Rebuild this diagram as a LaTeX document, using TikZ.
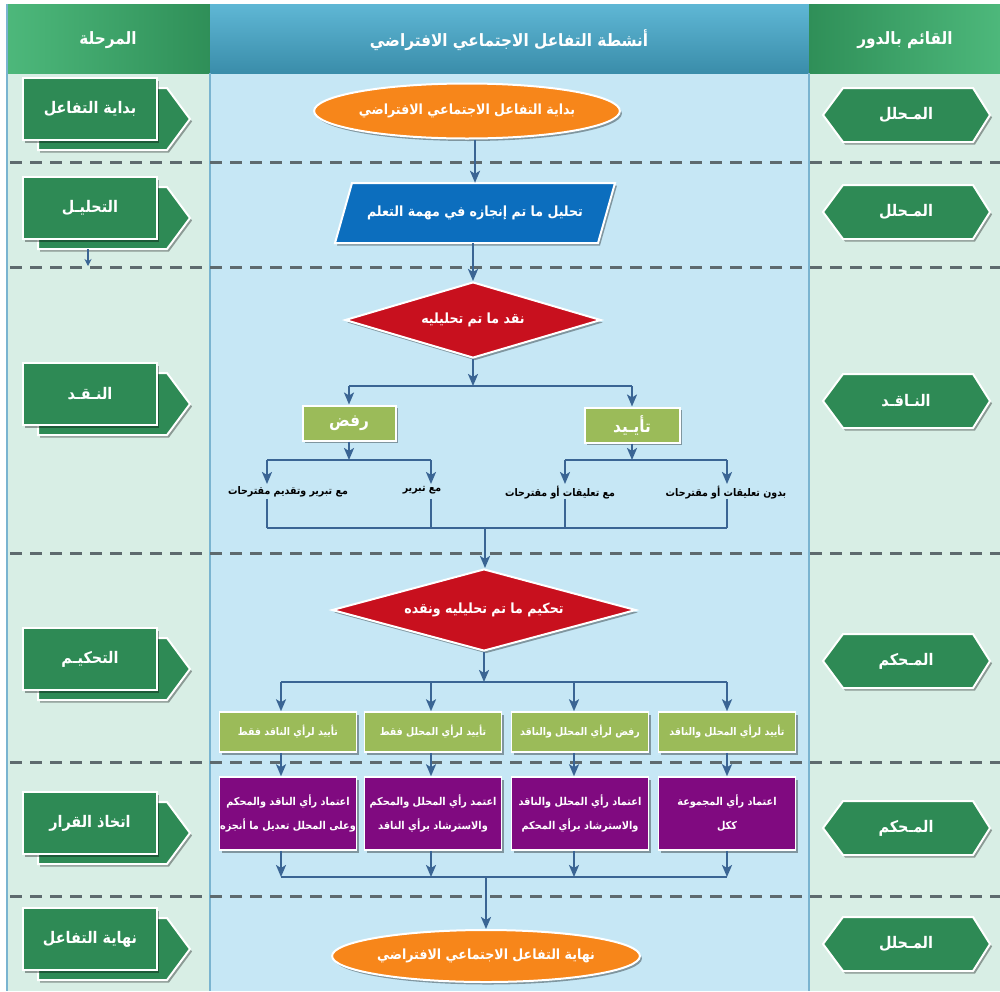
\documentclass[tikz,border=0pt]{standalone}
\usepackage{fontspec}
\usetikzlibrary{shapes.geometric,arrows.meta,shadows,calc}
\TeXXeTstate=1
\newfontfamily\arabicfont[Script=Arabic]{DejaVu Sans Condensed}
\newcommand{\AR}[1]{{\arabicfont\bfseries\beginR #1\endR}}
\definecolor{stagegreen}{HTML}{2E8A55}
\definecolor{hdrgreenL}{HTML}{4DB87B}
\definecolor{hdrgreenD}{HTML}{2F8F58}
\definecolor{hdrblueT}{HTML}{5FB7D5}
\definecolor{hdrblueB}{HTML}{3A8DAA}
\definecolor{sidebg}{HTML}{D8EEE5}
\definecolor{midbg}{HTML}{C6E7F5}
\definecolor{colline}{HTML}{7AB4D0}
\definecolor{dashgrey}{HTML}{5E6A6E}
\definecolor{arrowblue}{HTML}{3A6594}
\definecolor{startorange}{HTML}{F7861A}
\definecolor{parablue}{HTML}{0C6EBE}
\definecolor{diamred}{HTML}{C8101E}
\definecolor{olivebox}{HTML}{9BBB59}
\definecolor{plum}{HTML}{800A80}
\begin{document}
\begin{tikzpicture}[x=1pt,y=-1pt,
  shad/.style={drop shadow={shadow xshift=2pt,shadow yshift=-2.5pt,opacity=0.35,fill=black}},
  hdrtext/.style={text=white,font=\fontsize{17}{19}\selectfont,inner sep=0pt},
  stagefront/.style={rectangle,fill=stagegreen,draw=white,line width=2pt,minimum width=134pt,minimum height=62pt,inner sep=0pt,text=white,font=\fontsize{16}{18}\selectfont,shad},
  stageback/.style={fill=stagegreen,draw=white,line width=2pt,shad},
  hexshape/.style={fill=stagegreen,draw=white,line width=2pt,shad},
  hextext/.style={text=white,font=\fontsize{16}{18}\selectfont,inner sep=0pt},
  terminal/.style={ellipse,fill=startorange,draw=white,line width=2pt,minimum width=251pt,minimum height=55pt,inner sep=0pt,text=white,font=\fontsize{14}{16}\selectfont,shad},
  parashape/.style={fill=parablue,draw=white,line width=2pt,shad},
  iotext/.style={rectangle,minimum width=263pt,minimum height=60pt,inner sep=0pt,text=white,font=\fontsize{14}{16}\selectfont},
  decision/.style={diamond,fill=diamred,draw=white,line width=2pt,inner sep=0pt,text=white,font=\fontsize{14}{16}\selectfont,shad},
  choice/.style={rectangle,fill=olivebox,draw=white,line width=2pt,minimum height=35pt,inner sep=0pt,text=white,font=\fontsize{17}{19}\selectfont,shad},
  smalltext/.style={text=black,font=\fontsize{10.5}{12}\selectfont,inner sep=2pt,anchor=north},
  verdict/.style={rectangle,fill=olivebox,draw=white,line width=1.5pt,minimum width=137pt,minimum height=40pt,inner sep=0pt,text=white,font=\fontsize{10.5}{12}\selectfont,shad},
  decisionbox/.style={rectangle,fill=plum,draw=white,line width=1.5pt,minimum width=137pt,minimum height=73pt,inner sep=0pt,text=white,align=center,font=\fontsize{10.8}{24}\selectfont,shad},
  dashline/.style={draw=dashgrey,line width=3pt,dash pattern=on 12pt off 8pt},
  ln/.style={draw=arrowblue,line width=2.5pt},
  arr/.style={draw=arrowblue,line width=2.5pt,-{Stealth[length=12pt,width=10pt,inset=3pt]}}
]
\useasboundingbox (0,0) rectangle (1000,991);
% backgrounds
\fill[sidebg] (7,73) rectangle (210,991);
\fill[midbg] (210,73) rectangle (809,991);
\fill[sidebg] (809,73) rectangle (1000,991);
% header
\shade[left color=hdrgreenL,right color=hdrgreenD] (7,4) rectangle (210,73);
\shade[top color=hdrblueT,bottom color=hdrblueB] (210,4) rectangle (809,73);
\shade[left color=hdrgreenD,right color=hdrgreenL] (809,4) rectangle (1000,73);
\node[hdrtext] (H1) at (108,40) {\AR{المرحلة}};
\node[hdrtext] (H2) at (509,40) {\AR{أنشطة التفاعل الاجتماعي الافتراضي}};
\node[hdrtext] (H3) at (905,40) {\AR{القائم بالدور}};
% column lines
\draw[colline,line width=1.5pt] (7,4) -- (7,991);
\draw[colline,line width=1.5pt] (210,73) -- (210,991);
\draw[colline,line width=1.5pt] (809,73) -- (809,991);
% dashed separators
\foreach \yy in {162,267,553,762,896} \draw[dashline] (10,\yy) -- (1000,\yy);
% stages (left)
\foreach \cy/\txt [count=\i] in {78/بداية التفاعل,177/التحليـل,363/النـقـد,628/التحكيـم,792/اتخاذ القرار,908/نهاية التفاعل}{
  \path[stageback] (38,\cy+10) -- (167,\cy+10) -- (190,\cy+41) -- (167,\cy+72) -- (38,\cy+72) -- cycle;
  \node[stagefront] (L\i) at (90,\cy+31) {\AR{\txt}};
}
% roles (right)
\foreach \cy/\txt [count=\i] in {115/المـحلل,212/المـحلل,401/النـاقـد,661/المـحكم,828/المـحكم,944/المـحلل}{
  \path[hexshape] (823,\cy) -- (843,\cy-27) -- (973,\cy-27) -- (990,\cy) -- (973,\cy+27) -- (843,\cy+27) -- cycle;
  \node[hextext] (R\i) at (906,\cy) {\AR{\txt}};
}
% small stray arrow in left column
\coordinate (s1) at (88,249);
\coordinate (s2) at (88,266);
\draw[draw=arrowblue,line width=1.5pt,-{Stealth[length=7pt,width=7pt]}] (s1) -- (s2);
% main flow
\node[terminal] (start) at (467,111) {\AR{بداية التفاعل الاجتماعي الافتراضي}};
\path[parashape] (335,243) -- (352,183) -- (615,183) -- (598,243) -- cycle;
\node[iotext] (para) at (475,213) {\AR{تحليل ما تم إنجازه في مهمة التعلم}};
\node[decision,aspect=3.37,minimum width=256pt,minimum height=76pt] (d1) at (473,320) {\AR{نقد ما تم تحليليه}};
\node[choice,minimum width=93pt] (rafd) at (349,423) {\AR{رفض}};
\node[choice,minimum width=95pt] (taeed) at (632,425) {\AR{تأيـيد}};
\node[smalltext] (t1) at (288,484) {\AR{مع تبرير وتقديم مقترحات}};
\node[smalltext] (t2) at (422,484) {\AR{مع تبرير}};
\node[smalltext] (t3) at (560,484) {\AR{مع تعليقات أو مقترحات}};
\node[smalltext] (t4) at (726,484) {\AR{بدون تعليقات أو مقترحات}};
\node[decision,aspect=3.7,minimum width=304pt,minimum height=82pt] (d2) at (484,610) {\AR{تحكيم ما تم تحليليه ونقده}};
\node[verdict] (g1) at (288,732) {\AR{تأييد لرأي الناقد فقط}};
\node[verdict] (g2) at (433,732) {\AR{تأييد لرأي المحلل فقط}};
\node[verdict] (g3) at (580,732) {\AR{رفض لرأي المحلل والناقد}};
\node[verdict] (g4) at (727,732) {\AR{تأييد لرأي المحلل والناقد}};
\node[decisionbox] (p1) at (288,813.5) {\AR{اعتماد رأي الناقد والمحكم}\\\AR{وعلى المحلل تعديل ما أنجزه}};
\node[decisionbox] (p2) at (433,813.5) {\AR{اعتمد رأي المحلل والمحكم}\\\AR{والاسترشاد برأي الناقد}};
\node[decisionbox] (p3) at (580,813.5) {\AR{اعتماد رأي المحلل والناقد}\\\AR{والاسترشاد برأي المحكم}};
\node[decisionbox] (p4) at (727,813.5) {\AR{اعتماد رأي المجموعة}\\\AR{ككل}};
\node[terminal,minimum width=252pt,minimum height=52pt] (end) at (486,956) {\AR{نهاية التفاعل الاجتماعي الافتراضي}};
% junction coordinates
\coordinate (j1) at (473,386);
\coordinate (j2) at (349,460);
\coordinate (j2L) at (267,460);
\coordinate (j2R) at (431,460);
\coordinate (j3) at (632,460);
\coordinate (j3L) at (565,460);
\coordinate (j3R) at (727,460);
\coordinate (m) at (485,528);
\coordinate (k) at (484,682);
\coordinate (c1) at (281,682);
\coordinate (c2) at (431,682);
\coordinate (c3) at (574,682);
\coordinate (c4) at (727,682);
\coordinate (q) at (486,877);
% connectors
\draw[arr] (para.north |- start.south) -- (para.north);
\draw[arr] (d1.north |- para.south) -- (d1.north);
\draw[arr] (d1.south) -- (j1);
\draw[ln] (rafd.north |- j1) -- (taeed.north |- j1);
\draw[arr] (rafd.north |- j1) -- (rafd.north);
\draw[arr] (taeed.north |- j1) -- (taeed.north);
\draw[arr] (rafd.south) -- (j2);
\draw[ln] (j2L) -- (j2R);
\draw[arr] (j2L) -- (j2L |- t1.north);
\draw[arr] (j2R) -- (j2R |- t2.north);
\draw[arr] (taeed.south) -- (j3);
\draw[ln] (j3L) -- (j3R);
\draw[arr] (j3L) -- (j3L |- t3.north);
\draw[arr] (j3R) -- (j3R |- t4.north);
\draw[ln] (j2L |- t1.south) -- (j2L |- m);
\draw[ln] (j2R |- t1.south) -- (j2R |- m);
\draw[ln] (j3L |- t1.south) -- (j3L |- m);
\draw[ln] (j3R |- t1.south) -- (j3R |- m);
\draw[ln] (j2L |- m) -- (j3R |- m);
\draw[arr] (m) -- (d2.north -| m);
\draw[arr] (d2.south) -- (k);
\draw[ln] (c1) -- (c4);
\draw[arr] (c1) -- (c1 |- g1.north);
\draw[arr] (c2) -- (c2 |- g2.north);
\draw[arr] (c3) -- (c3 |- g3.north);
\draw[arr] (c4) -- (c4 |- g4.north);
\draw[arr] (c1 |- g1.south) -- (c1 |- p1.north);
\draw[arr] (c2 |- g2.south) -- (c2 |- p2.north);
\draw[arr] (c3 |- g3.south) -- (c3 |- p3.north);
\draw[arr] (c4 |- g4.south) -- (c4 |- p4.north);
\draw[arr] (c1 |- p1.south) -- (c1 |- q);
\draw[arr] (c2 |- p2.south) -- (c2 |- q);
\draw[arr] (c3 |- p3.south) -- (c3 |- q);
\draw[arr] (c4 |- p4.south) -- (c4 |- q);
\draw[ln] (c1 |- q) -- (c4 |- q);
\draw[arr] (q) -- (end.north);
\end{tikzpicture}
\end{document}
